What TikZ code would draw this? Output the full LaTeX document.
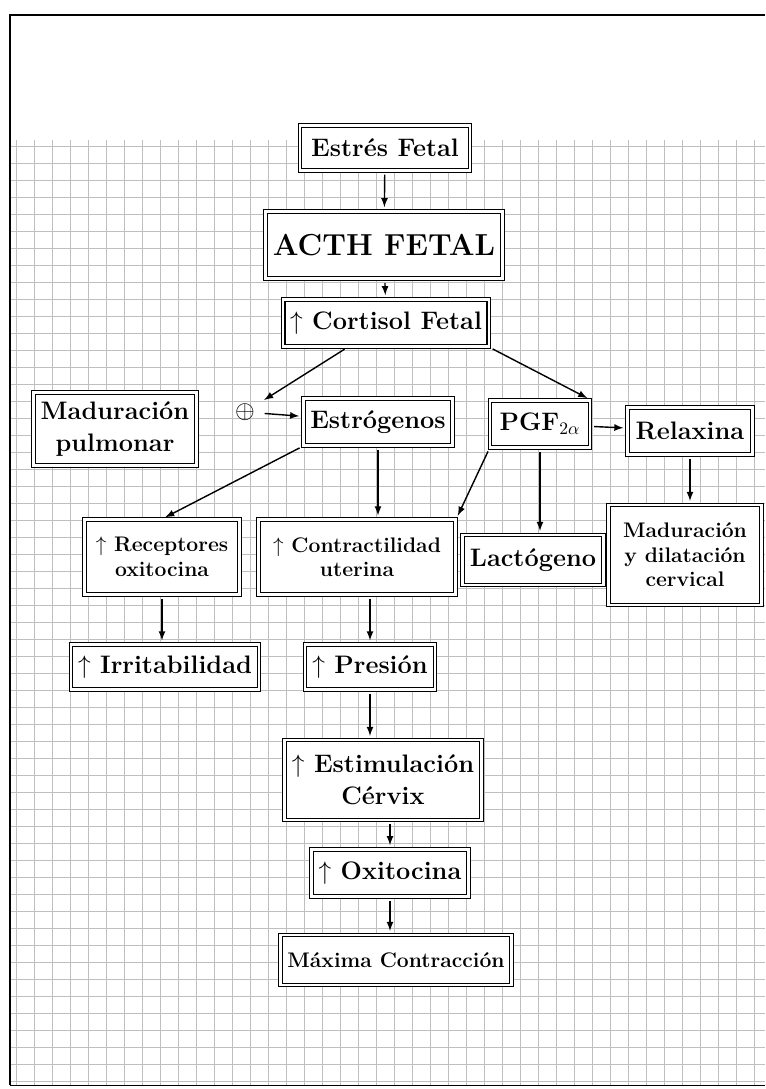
\documentclass[tikz,border=0pt]{standalone}
\usepackage{amsmath,amsfonts,amssymb}
\usepackage{tikz}
\usetikzlibrary{positioning,shapes,arrows}

\begin{document}
\begin{tikzpicture}[x=0.02cm, y=-0.02cm, >=latex,
    caja/.style={draw, rectangle, double, double distance=1.6pt, line width=0.6pt, fill=white, font=\Large\bfseries, align=center, inner sep=4pt},
    flecha/.style={->, thick, shorten <=2pt, shorten >=2pt}]
    \useasboundingbox (0,0) rectangle (765,1089);
    \fill[white] (0,0) rectangle (765,1089);

    % Hoja cuadriculada
    \foreach \x in {16,34,...,760} \draw[gray!50, line width=0.3pt] (\x,140) -- (\x,1085);
    \foreach \y in {146,163,...,1082} \draw[gray!50, line width=0.3pt] (10,\y) -- (765,\y);
    \draw[line width=1.4pt] (10,1085) -- (10,15) -- (765,15);
    \draw[line width=0.4pt] (10,1085) -- (765,1085);

    % Cadena central
    \node[caja, minimum width=3.4cm, minimum height=0.9cm] (estres) at (385,148) {Estrés Fetal};
    \node[caja, font=\LARGE\bfseries, minimum width=4.2cm, minimum height=1.35cm] (acth) at (384,245) {ACTH FETAL};
    \node[caja, minimum width=4.1cm, minimum height=0.95cm] (cortisol) at (386,323) {$\uparrow$ Cortisol Fetal};

    \draw[flecha] (estres) -- (acth);
    \draw[flecha] (acth) -- (cortisol);

    % Segundo nivel
    \node[caja, minimum width=3.2cm, minimum height=1.45cm] (pulmon) at (115,429) {Maduración\\pulmonar};
    \node[font=\Large] (placenta) at (245,412) {$\oplus$};
    \node[caja, minimum width=2.6cm, minimum height=0.95cm] (estrog) at (378,422) {Estrógenos};
    \node[caja, minimum width=2cm, minimum height=0.95cm] (pgf) at (540,424) {PGF$_{2\alpha}$};
    \node[caja, minimum width=2.5cm, minimum height=0.95cm] (relax) at (690,431) {Relaxina};

    \draw[flecha] (cortisol) -- (placenta);
    \draw[flecha] (cortisol.south east) -- (pgf.north east);
    \draw[flecha] (placenta) -- (estrog);
    \draw[flecha] (pgf) -- (relax);

    % Tercer nivel
    \node[caja, font=\large\bfseries, minimum width=3.1cm, minimum height=1.5cm] (recep) at (162,557) {$\uparrow$ Receptores\\oxitocina};
    \node[caja, font=\large\bfseries, minimum width=3.95cm, minimum height=1.5cm] (contr) at (357,557) {$\uparrow$ Contractilidad\\uterina};
    \node[caja, minimum width=2.6cm, minimum height=1cm] (lacto) at (533,560) {Lactógeno};
    \node[caja, font=\large\bfseries, minimum width=3.05cm, minimum height=2cm] (cervix) at (685,555) {Maduración\\y dilatación\\cervical};

    \draw[flecha] (estrog.south west) -- (recep.north);
    \draw[flecha] (estrog.south) -- (estrog.south |- contr.north);
    \draw[flecha] (pgf.south west) -- (contr.north east);
    \draw[flecha] (pgf.south) -- (pgf.south |- lacto.north);
    \draw[flecha] (relax.south) -- (relax.south |- cervix.north);

    % Parte inferior
    \node[caja, minimum width=3.25cm, minimum height=0.9cm] (irrit) at (165,667) {$\uparrow$ Irritabilidad};
    \node[caja, minimum width=2.6cm, minimum height=0.9cm] (presion) at (370,667) {$\uparrow$ Presión};
    \node[caja, minimum width=3.45cm, minimum height=1.6cm] (estim) at (383,780) {$\uparrow$ Estimulación\\Cérvix};
    \node[caja, minimum width=3.1cm, minimum height=0.95cm] (oxi) at (390,873) {$\uparrow$ Oxitocina};
    \node[caja, font=\large\bfseries, minimum width=4.15cm, minimum height=1cm] (final) at (396,960) {Máxima Contracción};

    \draw[flecha] (recep.south) -- (recep.south |- irrit.north);
    \draw[flecha] (presion.north |- contr.south) -- (presion.north);
    \draw[flecha] (presion.south) -- (presion.south |- estim.north);
    \draw[flecha] (oxi.north |- estim.south) -- (oxi.north);
    \draw[flecha] (oxi.south) -- (oxi.south |- final.north);
\end{tikzpicture}
\end{document}
